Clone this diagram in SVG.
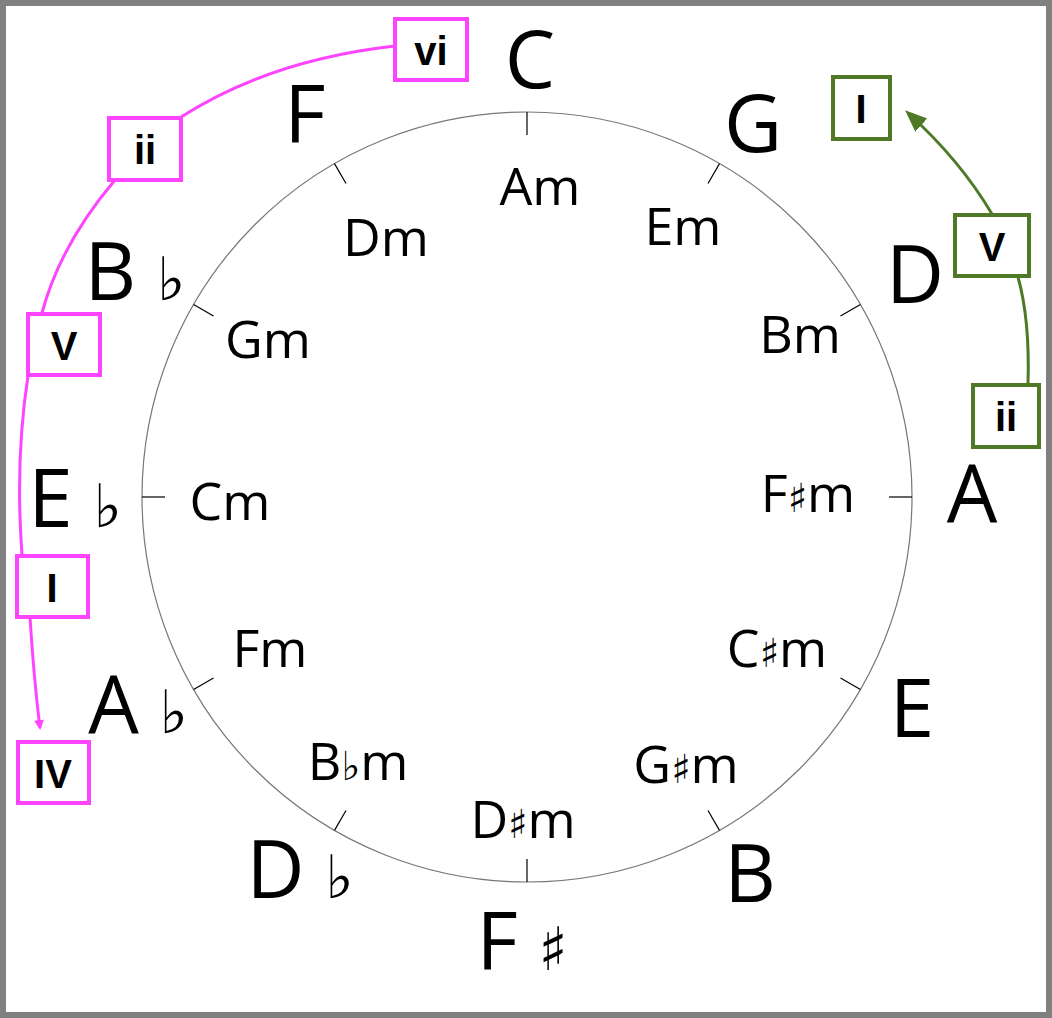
<svg xmlns="http://www.w3.org/2000/svg" width="1052" height="1018" viewBox="0 0 1052 1018">
<style>
.maj{font-family:"Open Sans","Liberation Sans",sans-serif;font-size:80px;fill:#000;text-anchor:middle}
.min{font-family:"Open Sans","Liberation Sans",sans-serif;font-size:52px;fill:#000;text-anchor:middle}
.acc{font-family:"DejaVu Sans",sans-serif;font-weight:normal}
.rn{font-family:"Liberation Sans",sans-serif;font-weight:bold;font-size:40px;fill:#000;text-anchor:middle}
.pb{fill:#fff;stroke:#ff44ff;stroke-width:4}
.gb{fill:#fff;stroke:#4e7a28;stroke-width:4}
.tick{stroke:#000;stroke-width:1.2}
</style>
<defs>
<marker id="ap" markerWidth="10" markerHeight="10" refX="8" refY="5" orient="auto" markerUnits="userSpaceOnUse" viewBox="0 0 10 10"><path d="M0,0 L10,5 L0,10 z" fill="#ff44ff"/></marker>
<marker id="ag" markerWidth="22" markerHeight="22" refX="18" refY="11" orient="auto" markerUnits="userSpaceOnUse" viewBox="0 0 22 22"><path d="M0,2 L22,11 L0,20 z" fill="#4e7a28"/></marker>
</defs>
<rect x="3" y="3" width="1046" height="1012" fill="#fff" stroke="#808080" stroke-width="6"/>
<g id="wheel">
<circle cx="527" cy="497" r="385" fill="none" stroke="#777" stroke-width="1.2"/>
<g transform="translate(527 497)">
<line class="tick" x1="0" y1="-385" x2="0" y2="-362" transform="rotate(0)"/>
<line class="tick" x1="0" y1="-385" x2="0" y2="-362" transform="rotate(30)"/>
<line class="tick" x1="0" y1="-385" x2="0" y2="-362" transform="rotate(60)"/>
<line class="tick" x1="0" y1="-385" x2="0" y2="-362" transform="rotate(90)"/>
<line class="tick" x1="0" y1="-385" x2="0" y2="-362" transform="rotate(120)"/>
<line class="tick" x1="0" y1="-385" x2="0" y2="-362" transform="rotate(150)"/>
<line class="tick" x1="0" y1="-385" x2="0" y2="-362" transform="rotate(180)"/>
<line class="tick" x1="0" y1="-385" x2="0" y2="-362" transform="rotate(210)"/>
<line class="tick" x1="0" y1="-385" x2="0" y2="-362" transform="rotate(240)"/>
<line class="tick" x1="0" y1="-385" x2="0" y2="-362" transform="rotate(270)"/>
<line class="tick" x1="0" y1="-385" x2="0" y2="-362" transform="rotate(300)"/>
<line class="tick" x1="0" y1="-385" x2="0" y2="-362" transform="rotate(330)"/>
</g>
</g>
<g id="majors">
<text class="maj" x="530" y="88">C</text>
<text class="maj" x="753" y="152">G</text>
<text class="maj" x="915" y="303">D</text>
<text class="maj" x="972" y="522">A</text>
<text class="maj" x="912" y="737">E</text>
<text class="maj" x="750" y="902">B</text>
<text class="maj" x="522" y="970">F <tspan class="acc" font-size="60">♯</tspan></text>
<text class="maj" x="300" y="898">D <tspan class="acc" font-size="60">♭</tspan></text>
<text class="maj" x="138" y="733">A <tspan class="acc" font-size="60">♭</tspan></text>
<text class="maj" x="75" y="527">E <tspan class="acc" font-size="60">♭</tspan></text>
<text class="maj" x="135" y="300">B <tspan class="acc" font-size="60">♭</tspan></text>
<text class="maj" x="305" y="143">F</text>
</g>
<g id="minors">
<text class="min" x="540" y="205">Am</text>
<text class="min" x="683" y="245">Em</text>
<text class="min" x="800" y="353">Bm</text>
<text class="min" x="808" y="512">F<tspan class="acc" font-size="40">♯</tspan>m</text>
<text class="min" x="777" y="667">C<tspan class="acc" font-size="40">♯</tspan>m</text>
<text class="min" x="686" y="783">G<tspan class="acc" font-size="40">♯</tspan>m</text>
<text class="min" x="523" y="838">D<tspan class="acc" font-size="40">♯</tspan>m</text>
<text class="min" x="358" y="780">B<tspan class="acc" font-size="40">♭</tspan>m</text>
<text class="min" x="270" y="667">Fm</text>
<text class="min" x="230" y="520">Cm</text>
<text class="min" x="268" y="358">Gm</text>
<text class="min" x="386" y="256">Dm</text>
</g>
<g id="connectors" fill="none">
<path d="M395,46 Q270,60 181,117" stroke="#ff44ff" stroke-width="3"/>
<path d="M115,180 Q60,245 42,313" stroke="#ff44ff" stroke-width="3"/>
<path d="M28,376 Q15,460 22,555" stroke="#ff44ff" stroke-width="3"/>
<path d="M30,617 Q34,680 40,728" stroke="#ff44ff" stroke-width="3" marker-end="url(#ap)"/>
<path d="M1028,384 Q1030,320 1018,277" stroke="#4e7a28" stroke-width="3"/>
<path d="M992,214 Q960,160 908,113" stroke="#4e7a28" stroke-width="3" marker-end="url(#ag)"/>
</g>
<g id="pink-vi"><rect class="pb" x="395" y="19" width="72" height="61"/><text class="rn" x="431" y="65">vi</text></g>
<g id="pink-ii"><rect class="pb" x="109" y="118" width="72" height="62"/><text class="rn" x="145" y="164">ii</text></g>
<g id="pink-V"><rect class="pb" x="28" y="314" width="72" height="61"/><text class="rn" x="64" y="360">V</text></g>
<g id="pink-I"><rect class="pb" x="17" y="556" width="71" height="61"/><text class="rn" x="52" y="602">I</text></g>
<g id="pink-IV"><rect class="pb" x="18" y="742" width="71" height="61"/><text class="rn" x="53" y="788">IV</text></g>
<g id="green-I"><rect class="gb" x="833" y="77" width="57" height="62"/><text class="rn" x="861" y="123">I</text></g>
<g id="green-V"><rect class="gb" x="955" y="215" width="74" height="61"/><text class="rn" x="992" y="261">V</text></g>
<g id="green-ii"><rect class="gb" x="973" y="385" width="66" height="62"/><text class="rn" x="1006" y="431">ii</text></g>
</svg>
